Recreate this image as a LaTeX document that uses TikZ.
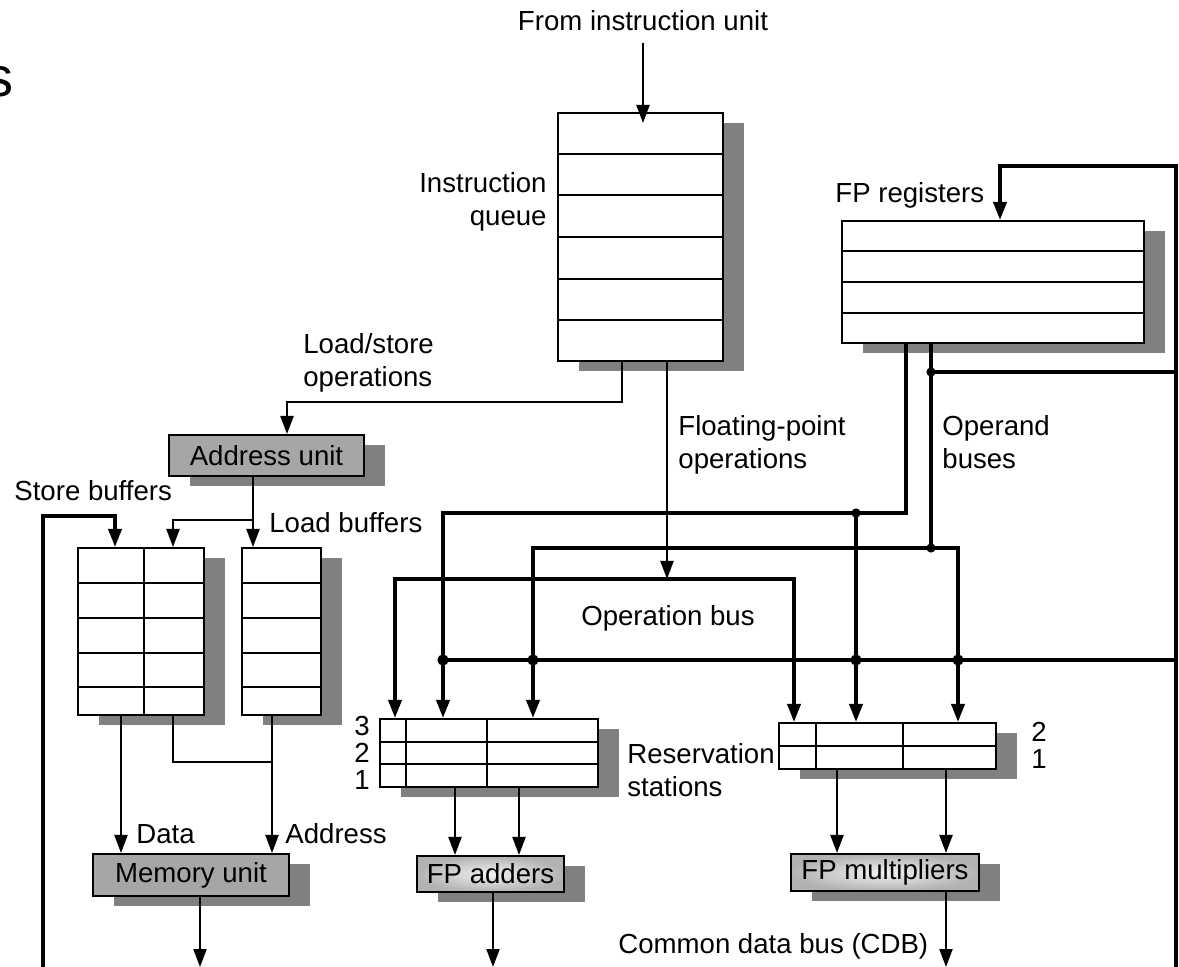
\documentclass[tikz,border=0pt]{standalone}
\usepackage{fontspec}
\setmainfont{Liberation Sans}
\usetikzlibrary{arrows.meta,shadows,calc}
\begin{document}
\begin{tikzpicture}[x=0.5pt,y=-0.5pt,
  lbl/.style={inner sep=0pt, font=\fontsize{13.8}{16.5}\selectfont},
  box/.style={draw, line width=1pt, fill=white, inner sep=0pt,
    font=\fontsize{13.8}{16.5}\selectfont,
    drop shadow={shadow xshift=10.5pt, shadow yshift=-5pt, fill=black!50, opacity=1}},
  unitbox/.style={box, fill=black!35},
  fpunit/.style={box, inner color=black!5, outer color=black!30},
  gridln/.style={line width=1pt},
  thinln/.style={line width=1.1pt},
  thickln/.style={line width=1.8pt},
  arr/.style={-{Triangle[length=9pt,width=6.5pt]}},
  arrs/.style={{Triangle[length=9pt,width=6.5pt]}-{Triangle[length=9pt,width=6.5pt]}},
]
\useasboundingbox (0,0) rectangle (1179,967);

% ---- boxes ----
\node[box, minimum width=82.5pt, minimum height=124pt] (iq) at (640.5,237) {};
\foreach \k in {1,...,5}
  \draw[gridln] ($(iq.north west)!\k/6!(iq.south west)$) -- ($(iq.north east)!\k/6!(iq.south east)$);

\node[box, minimum width=151pt, minimum height=61pt] (fpr) at (993,282) {};
\foreach \k in {1,...,3}
  \draw[gridln] ($(fpr.north west)!\k/4!(fpr.south west)$) -- ($(fpr.north east)!\k/4!(fpr.south east)$);

\node[unitbox, minimum width=97.5pt, minimum height=20.5pt] (au) at (266.5,455.5) {Address unit};

\node[box, minimum width=63pt, minimum height=83.5pt] (sb) at (141,631.5) {};
\node[box, minimum width=39.5pt, minimum height=83.5pt] (lb) at (281.5,631.5) {};
\foreach \yy in {583,618,653,687} {
  \draw[gridln] (78,\yy) -- (204,\yy);
  \draw[gridln] (242,\yy) -- (321,\yy);
}
\draw[gridln] (144,548) -- (144,715);

\node[box, minimum width=109pt, minimum height=34pt] (ars) at (489,753) {};
\draw[gridln] (380,741.7) -- (598,741.7);
\draw[gridln] (380,764.3) -- (598,764.3);
\draw[gridln] (406,719) -- (406,787);
\draw[gridln] (487,719) -- (487,787);

\node[box, minimum width=108.5pt, minimum height=23pt] (mrs) at (887.5,746) {};
\draw[gridln] (779,746) -- (996,746);
\draw[gridln] (816,723) -- (816,769);
\draw[gridln] (903,723) -- (903,769);

\node[unitbox, minimum width=98pt, minimum height=21pt] (mu) at (191,875) {Memory unit};
\node[fpunit, minimum width=73.5pt, minimum height=18pt] (fpa) at (490.5,874) {FP adders};
\node[fpunit, minimum width=94pt, minimum height=18.5pt] (fpm) at (885,872.5) {FP multipliers};

% ---- labels ----
\node[inner sep=0pt, anchor=base east, font=\fontsize{28}{30}\selectfont] (sfrag) at (14,97) {s};
\node[lbl, anchor=base] (fromiu) at (643,31) {From instruction unit};
\node[lbl, align=right, anchor=north east] (iql) at (547,172) {Instruction\\queue};
\node[lbl, anchor=base west] (fprl) at (835,203) {FP registers};
\node[lbl, align=left, anchor=north west] (lsl) at (303,333) {Load/store\\operations};
\node[lbl, align=left, anchor=north west] (fpol) at (678,415) {Floating-point\\operations};
\node[lbl, align=left, anchor=north west] (opbl) at (942,415) {Operand\\buses};
\node[lbl, anchor=base west] (sbl) at (14,501) {Store buffers};
\node[lbl, anchor=base west] (lbl) at (269,533) {Load buffers};
\node[lbl, anchor=base] (obl) at (668,626) {Operation bus};
\node[lbl, anchor=east] (r3) at (370,726) {3};
\node[lbl, anchor=east] (r2) at (370,753) {2};
\node[lbl, anchor=east] (r1) at (370,780) {1};
\node[lbl] (m2) at (1039,732) {2};
\node[lbl] (m1) at (1039,759) {1};
\node[lbl, align=left, anchor=north west] (rsl) at (627,743) {Reservation\\stations};
\node[lbl, anchor=base west] (datal) at (136,843) {Data};
\node[lbl, anchor=base west] (addrl) at (285,843) {Address};
\node[lbl, anchor=base west] (cdbl) at (618,953) {Common data bus (CDB)};

% ---- coordinates ----
\coordinate (ls1) at (622,402);
\coordinate (ls2) at (287,402);
\coordinate (fpo) at (667,579);
\coordinate (ob1) at (395,579);
\coordinate (ob2) at (794,579);
\coordinate (au1) at (253,520);
\coordinate (au2) at (173,520);
\coordinate (cdbL) at (43,967);
\coordinate (sbc) at (43,516);
\coordinate (sbd) at (115,516);
\coordinate (dat) at (121,800);
\coordinate (sbx) at (173,762);
\coordinate (lbx) at (272,762);
\coordinate (muo) at (200,967);
\coordinate (cdbR) at (1176,967);
\coordinate (fr1) at (1176,166);
\coordinate (fr2) at (1000,166);
\coordinate (oa1) at (906,513);
\coordinate (oa2) at (443,513);
\coordinate (j1) at (856,513);
\coordinate (j2) at (931,548);
\coordinate (pb2) at (533,548);
\coordinate (pb3) at (958,548);
\coordinate (j3) at (931,372);
\coordinate (j4) at (443,660);
\coordinate (j5) at (533,660);
\coordinate (j6) at (856,660);
\coordinate (j7) at (958,660);
\coordinate (ax1) at (455,820);
\coordinate (ax2) at (519,820);
\coordinate (fpao) at (493,967);
\coordinate (mx1) at (837,820);
\coordinate (mx2) at (946,820);

% ---- thin connectors ----
\draw[thinln,arr] ([yshift=-5.5pt]fromiu.south) -- ([yshift=-5.5pt]fromiu.south |- iq.north);
\draw[thinln,arr] (iq.south -| ls1) -- (ls1) -- (ls2) -- (ls2 |- au.north);
\draw[thinln,arr] (iq.south -| fpo) -- (fpo);
\draw[thinln,arr] (au.south -| au1) -- (au1) -- (au1 |- lb.north);
\draw[thinln,arr] (au1) -- (au2) -- (au2 |- sb.north);
\draw[thinln,arr] (sb.south -| dat) -- (mu.north -| dat);
\draw[thinln] (sb.south -| sbx) -- (sbx) -- (lbx);
\draw[thinln,arr] (lb.south -| lbx) -- (mu.north -| lbx);
\draw[thinln,arr] (mu.south -| muo) -- (muo);
\draw[thinln,arr] (ars.south -| ax1) -- (fpa.north -| ax1);
\draw[thinln,arr] (ars.south -| ax2) -- (fpa.north -| ax2);
\draw[thinln,arr] (fpa.south -| fpao) -- (fpao);
\draw[thinln,arr] (mrs.south -| mx1) -- (fpm.north -| mx1);
\draw[thinln,arr] (mrs.south -| mx2) -- (fpm.north -| mx2);
\draw[thinln,arr] (fpm.south -| mx2) -- (mx2 |- cdbR);

% ---- thick buses ----
\draw[thickln,arrs] (ob1 |- ars.north) -- (ob1) -- (ob2) -- (ob2 |- mrs.north);
\draw[thickln,arr] (cdbL) -- (sbc) -- (sbd) -- (sbd |- sb.north);
\draw[thickln,arr] (cdbR) -- (fr1) -- (fr2) -- (fr2 |- fpr.north);
\draw[thickln,arr] (fpr.south -| oa1) -- (oa1) -- (oa2) -- (oa2 |- ars.north);
\draw[thickln,arr] (j1) -- (j1 |- mrs.north);
\draw[thickln,arr] (fpr.south -| j2) -- (j2) -- (pb2) -- (pb2 |- ars.north);
\draw[thickln,arr] (j2) -- (pb3) -- (pb3 |- mrs.north);
\draw[thickln] (fr1 |- j3) -- (j3);
\draw[thickln] (fr1 |- j4) -- (j4);

% ---- junction dots ----
\foreach \j in {j1,j2,j3} \fill (\j) circle (2.3pt);
\foreach \j in {j4,j5,j6,j7} \fill (\j) circle (2.8pt);
\end{tikzpicture}
\end{document}
